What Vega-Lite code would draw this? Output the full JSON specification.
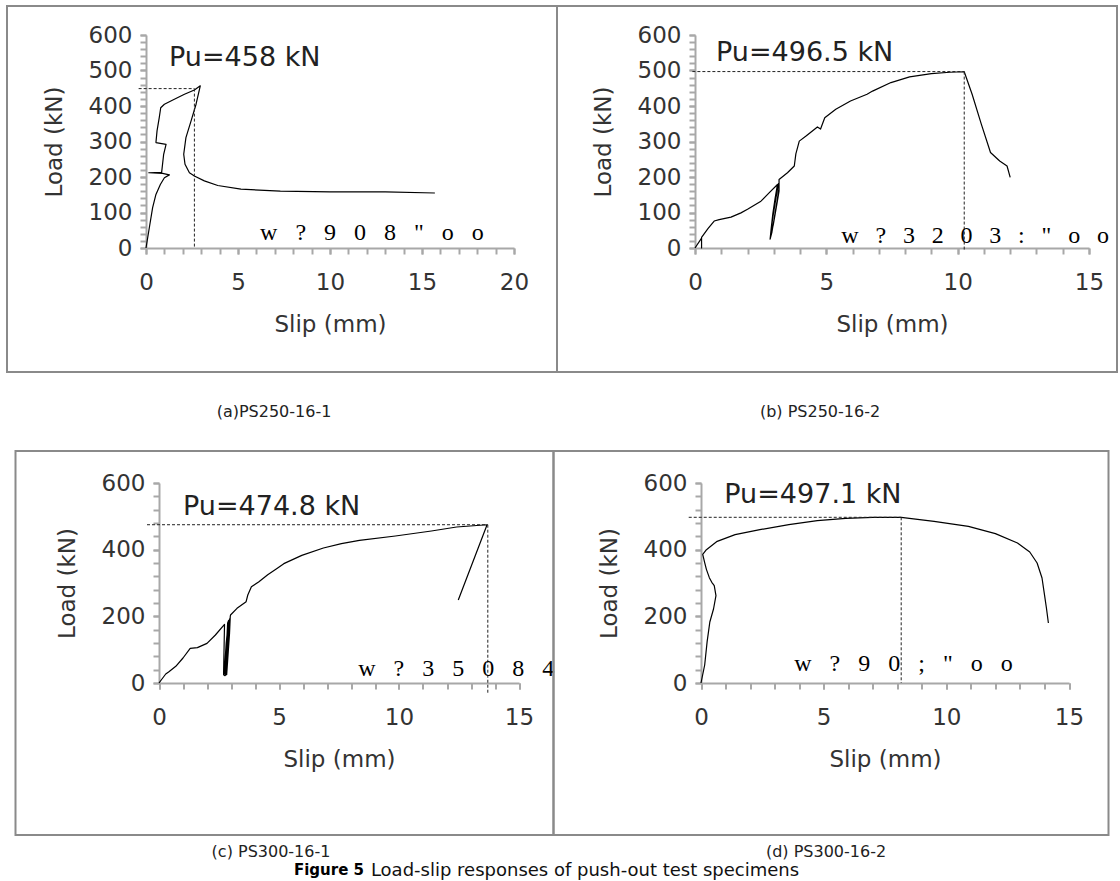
{
  "$schema": "https://vega.github.io/schema/vega-lite/v6.json",
  "padding": {"left": 6, "top": 5, "right": 0, "bottom": 0},
  "spacing": 29,
  "center": true,
  "title": {"text": "Load-slip responses of push-out test specimens", "orient": "bottom", "offset": 0, "dx": 23, "dy": -16.5, "fontSize": 18, "fontWeight": "normal", "color": "#111"},
  "datasets": {
    "a": [
      {"i": 0, "s": 0, "L": 0}, {"i": 1, "s": 0.18, "L": 57}, {"i": 2, "s": 0.36, "L": 114}, {"i": 3, "s": 0.54, "L": 151},
      {"i": 4, "s": 0.78, "L": 179}, {"i": 5, "s": 1.0, "L": 198}, {"i": 6, "s": 1.27, "L": 206}, {"i": 7, "s": 0.9, "L": 210},
      {"i": 8, "s": 0.15, "L": 212}, {"i": 9, "s": 0.85, "L": 213}, {"i": 10, "s": 0.96, "L": 264}, {"i": 11, "s": 1.09, "L": 292},
      {"i": 12, "s": 0.54, "L": 297}, {"i": 13, "s": 0.6, "L": 330}, {"i": 14, "s": 0.72, "L": 367}, {"i": 15, "s": 0.8, "L": 395},
      {"i": 16, "s": 1.0, "L": 405}, {"i": 17, "s": 1.54, "L": 419}, {"i": 18, "s": 2.09, "L": 433}, {"i": 19, "s": 2.63, "L": 445},
      {"i": 20, "s": 2.95, "L": 457}, {"i": 21, "s": 2.72, "L": 405}, {"i": 22, "s": 2.45, "L": 358}, {"i": 23, "s": 2.17, "L": 311},
      {"i": 24, "s": 2.05, "L": 264}, {"i": 25, "s": 2.12, "L": 236}, {"i": 26, "s": 2.36, "L": 212}, {"i": 27, "s": 2.63, "L": 203},
      {"i": 28, "s": 3.17, "L": 189}, {"i": 29, "s": 3.9, "L": 176}, {"i": 30, "s": 5.16, "L": 166}, {"i": 31, "s": 7.3, "L": 160},
      {"i": 32, "s": 10.0, "L": 158}, {"i": 33, "s": 13.0, "L": 158}, {"i": 34, "s": 15.7, "L": 155}
    ],
    "b": [
      {"i": 0, "s": 0, "L": 0}, {"i": 1, "s": 0.25, "L": 28}, {"i": 2, "s": 0.25, "L": 0}, {"i": 3, "s": 0.25, "L": 30},
      {"i": 4, "s": 0.5, "L": 55}, {"i": 5, "s": 0.73, "L": 76}, {"i": 6, "s": 0.92, "L": 80}, {"i": 7, "s": 1.37, "L": 87},
      {"i": 8, "s": 1.75, "L": 99}, {"i": 9, "s": 2.0, "L": 109}, {"i": 10, "s": 2.51, "L": 132}, {"i": 11, "s": 2.83, "L": 156},
      {"i": 12, "s": 3.14, "L": 179}, {"i": 13, "s": 3.05, "L": 140}, {"i": 14, "s": 2.96, "L": 95}, {"i": 15, "s": 2.9, "L": 55},
      {"i": 16, "s": 2.86, "L": 25}, {"i": 17, "s": 2.93, "L": 45}, {"i": 18, "s": 3.03, "L": 90}, {"i": 19, "s": 3.13, "L": 135},
      {"i": 20, "s": 3.2, "L": 170}, {"i": 21, "s": 3.18, "L": 182}, {"i": 22, "s": 3.08, "L": 140}, {"i": 23, "s": 2.95, "L": 80},
      {"i": 24, "s": 2.88, "L": 35}, {"i": 25, "s": 2.98, "L": 65}, {"i": 26, "s": 3.12, "L": 125}, {"i": 27, "s": 3.2, "L": 160},
      {"i": 28, "s": 3.2, "L": 193}, {"i": 29, "s": 3.52, "L": 212}, {"i": 30, "s": 3.78, "L": 231}, {"i": 31, "s": 3.84, "L": 265},
      {"i": 32, "s": 3.97, "L": 301}, {"i": 33, "s": 4.24, "L": 316}, {"i": 34, "s": 4.66, "L": 341}, {"i": 35, "s": 4.78, "L": 335},
      {"i": 36, "s": 4.94, "L": 367}, {"i": 37, "s": 5.36, "L": 391}, {"i": 38, "s": 5.92, "L": 414}, {"i": 39, "s": 6.55, "L": 433},
      {"i": 40, "s": 6.76, "L": 442}, {"i": 41, "s": 7.46, "L": 466}, {"i": 42, "s": 8.17, "L": 482}, {"i": 43, "s": 9.0, "L": 491},
      {"i": 44, "s": 9.7, "L": 495}, {"i": 45, "s": 10.25, "L": 496.5}, {"i": 46, "s": 10.55, "L": 433}, {"i": 47, "s": 10.9, "L": 349},
      {"i": 48, "s": 11.25, "L": 269}, {"i": 49, "s": 11.6, "L": 245}, {"i": 50, "s": 11.88, "L": 231}, {"i": 51, "s": 12.0, "L": 199}
    ],
    "c": [
      {"i": 0, "s": 0, "L": 0}, {"i": 1, "s": 0.28, "L": 27}, {"i": 2, "s": 0.4, "L": 33}, {"i": 3, "s": 0.7, "L": 50},
      {"i": 4, "s": 1.0, "L": 75}, {"i": 5, "s": 1.3, "L": 104}, {"i": 6, "s": 1.6, "L": 106}, {"i": 7, "s": 2.0, "L": 119},
      {"i": 8, "s": 2.35, "L": 144}, {"i": 9, "s": 2.73, "L": 176}, {"i": 10, "s": 2.69, "L": 25}, {"i": 11, "s": 2.75, "L": 22},
      {"i": 12, "s": 2.86, "L": 180}, {"i": 13, "s": 2.9, "L": 188}, {"i": 14, "s": 2.8, "L": 120}, {"i": 15, "s": 2.72, "L": 30},
      {"i": 16, "s": 2.78, "L": 24}, {"i": 17, "s": 2.92, "L": 185}, {"i": 18, "s": 2.96, "L": 195}, {"i": 19, "s": 2.86, "L": 110},
      {"i": 20, "s": 2.76, "L": 28}, {"i": 21, "s": 2.82, "L": 25}, {"i": 22, "s": 2.94, "L": 150}, {"i": 23, "s": 2.97, "L": 200},
      {"i": 24, "s": 2.98, "L": 204}, {"i": 25, "s": 3.25, "L": 224}, {"i": 26, "s": 3.63, "L": 244},
      {"i": 27, "s": 3.7, "L": 264}, {"i": 28, "s": 3.85, "L": 289}, {"i": 29, "s": 4.15, "L": 303}, {"i": 30, "s": 4.53, "L": 325},
      {"i": 31, "s": 4.9, "L": 343}, {"i": 32, "s": 5.2, "L": 358}, {"i": 33, "s": 5.95, "L": 383}, {"i": 34, "s": 6.85, "L": 405},
      {"i": 35, "s": 7.6, "L": 418}, {"i": 36, "s": 8.35, "L": 428}, {"i": 37, "s": 9.85, "L": 441}, {"i": 38, "s": 11.35, "L": 456},
      {"i": 39, "s": 12.4, "L": 468}, {"i": 40, "s": 13.67, "L": 474.8}, {"i": 41, "s": 12.47, "L": 249}
    ],
    "d": [
      {"i": 0, "s": 0, "L": 0}, {"i": 1, "s": 0.15, "L": 54}, {"i": 2, "s": 0.25, "L": 124}, {"i": 3, "s": 0.36, "L": 183},
      {"i": 4, "s": 0.51, "L": 222}, {"i": 5, "s": 0.61, "L": 262}, {"i": 6, "s": 0.54, "L": 292}, {"i": 7, "s": 0.44, "L": 302},
      {"i": 8, "s": 0.34, "L": 316}, {"i": 9, "s": 0.22, "L": 341}, {"i": 10, "s": 0.15, "L": 361}, {"i": 11, "s": 0.07, "L": 386},
      {"i": 12, "s": 0.22, "L": 400}, {"i": 13, "s": 0.66, "L": 425}, {"i": 14, "s": 1.39, "L": 445}, {"i": 15, "s": 2.4, "L": 460},
      {"i": 16, "s": 3.58, "L": 475}, {"i": 17, "s": 4.74, "L": 487}, {"i": 18, "s": 5.9, "L": 494}, {"i": 19, "s": 7.0, "L": 497},
      {"i": 20, "s": 8.16, "L": 497.1}, {"i": 21, "s": 9.5, "L": 485}, {"i": 22, "s": 10.9, "L": 470}, {"i": 23, "s": 12.0, "L": 448},
      {"i": 24, "s": 12.9, "L": 420}, {"i": 25, "s": 13.4, "L": 393}, {"i": 26, "s": 13.7, "L": 360}, {"i": 27, "s": 13.9, "L": 315},
      {"i": 28, "s": 14.0, "L": 265}, {"i": 29, "s": 14.08, "L": 225}, {"i": 30, "s": 14.16, "L": 180}
    ]
  },
  "vconcat": [
    {
      "hconcat": [
        {
          "width": 550, "height": 366,
          "title": {"text": "(a)PS250-16-1", "orient": "bottom", "offset": 32, "dx": -8},
          "resolve": {"axis": {"x": "independent", "y": "independent"}},
          "layer": [
            {
              "data": {"name": "a"},
              "mark": {"type": "line", "color": "#000", "strokeWidth": 1.2, "strokeJoin": "round"},
              "encoding": {
                "x": {"field": "s", "type": "quantitative", "scale": {"domain": [0, 20], "range": [139, 507], "nice": false, "zero": false},
                  "axis": {"title": "Slip (mm)", "orient": "bottom", "offset": -124, "values": [0, 5, 10, 15, 20]}},
                "y": {"field": "L", "type": "quantitative", "scale": {"domain": [0, 600], "range": [242, 29], "nice": false, "zero": false},
                  "axis": {"title": "Load (kN)", "orient": "left", "offset": -139, "values": [0, 100, 200, 300, 400, 500, 600]}},
                "order": {"field": "i", "type": "quantitative"}
              }
            },
            {
              "data": {"values": [{"x": -0.4, "x2": 2.63, "y": 449, "y2": 449}, {"x": 2.63, "x2": 2.63, "y": 449, "y2": 0}]},
              "mark": {"type": "rule", "color": "#222", "strokeWidth": 1, "strokeDash": [3, 2]},
              "encoding": {
                "x": {"field": "x", "type": "quantitative", "axis": {"orient": "bottom", "offset": -124, "title": null, "labels": false, "domain": false, "values": [0,1,2,3,4,5,6,7,8,9,10,11,12,13,14,15,16,17,18,19,20]}},
                "x2": {"field": "x2"},
                "y": {"field": "y", "type": "quantitative", "axis": {"orient": "left", "offset": -139, "title": null, "labels": false, "domain": false, "values": [0,20,40,60,80,100,120,140,160,180,200,220,240,260,280,300,320,340,360,380,400,420,440,460,480,500,520,540,560,580,600]}},
                "y2": {"field": "y2"}
              }
            },
            {
              "data": {"values": [{"label": "Pu=458 kN"}]},
              "mark": {"type": "text", "align": "left", "baseline": "alphabetic", "fontSize": 27, "color": "#222"},
              "encoding": {"x": {"datum": 1.25, "axis": null}, "y": {"datum": 513, "axis": null}, "text": {"field": "label"}}
            },
            {
              "data": {"values": [{"label": "w\u2002 ?\u2002 9\u2002 0\u2002 8\u2002 \"\u2002 o\u2002 o"}]},
              "mark": {"type": "text", "align": "left", "baseline": "alphabetic", "font": "Liberation Serif", "fontSize": 24, "color": "#000"},
              "encoding": {"x": {"datum": 6.2, "axis": null}, "y": {"datum": 22, "axis": null}, "text": {"field": "label"}}
            }
          ]
        },
        {
          "width": 560, "height": 366,
          "title": {"text": "(b) PS250-16-2", "orient": "bottom", "offset": 32, "dx": -17},
          "resolve": {"axis": {"x": "independent", "y": "independent"}},
          "layer": [
            {
              "data": {"name": "b"},
              "mark": {"type": "line", "color": "#000", "strokeWidth": 1.2, "strokeJoin": "round"},
              "encoding": {
                "x": {"field": "s", "type": "quantitative", "scale": {"domain": [0, 15], "range": [138, 532], "nice": false, "zero": false},
                  "axis": {"title": "Slip (mm)", "orient": "bottom", "offset": -124, "values": [0, 5, 10, 15]}},
                "y": {"field": "L", "type": "quantitative", "scale": {"domain": [0, 600], "range": [242, 29], "nice": false, "zero": false},
                  "axis": {"title": "Load (kN)", "orient": "left", "offset": -138, "values": [0, 100, 200, 300, 400, 500, 600]}},
                "order": {"field": "i", "type": "quantitative"}
              }
            },
            {
              "data": {"values": [{"x": -0.1, "x2": 10.25, "y": 497, "y2": 497}, {"x": 10.25, "x2": 10.25, "y": 497, "y2": -8}]},
              "mark": {"type": "rule", "color": "#222", "strokeWidth": 1, "strokeDash": [3, 2]},
              "encoding": {
                "x": {"field": "x", "type": "quantitative", "axis": {"orient": "bottom", "offset": -124, "title": null, "labels": false, "domain": false, "values": [0,1,2,3,4,5,6,7,8,9,10,11,12,13,14,15]}},
                "x2": {"field": "x2"},
                "y": {"field": "y", "type": "quantitative", "axis": {"orient": "left", "offset": -138, "title": null, "labels": false, "domain": false, "values": [0,20,40,60,80,100,120,140,160,180,200,220,240,260,280,300,320,340,360,380,400,420,440,460,480,500,520,540,560,580,600]}},
                "y2": {"field": "y2"}
              }
            },
            {
              "data": {"values": [{"label": "Pu=496.5 kN"}]},
              "mark": {"type": "text", "align": "left", "baseline": "alphabetic", "fontSize": 27, "color": "#222"},
              "encoding": {"x": {"datum": 0.8, "axis": null}, "y": {"datum": 527, "axis": null}, "text": {"field": "label"}}
            },
            {
              "data": {"values": [{"label": "w\u2002\u2009?\u2002\u20093\u2002\u20092\u2002\u20090\u2002\u20093\u2002\u2009:\u2002\u2009\"\u2002\u2009o\u2002\u2009o"}]},
              "mark": {"type": "text", "align": "left", "baseline": "alphabetic", "font": "Liberation Serif", "fontSize": 24, "color": "#000"},
              "encoding": {"x": {"datum": 5.57, "axis": null}, "y": {"datum": 14, "axis": null}, "text": {"field": "label"}}
            }
          ]
        }
      ],
      "spacing": 0,
      "bounds": "flush"
    },
    {
      "hconcat": [
        {
          "width": 538, "height": 384,
          "title": {"text": "(c) PS300-16-1", "orient": "bottom", "offset": 9, "dx": -13.5},
          "resolve": {"axis": {"x": "independent", "y": "independent"}},
          "layer": [
            {
              "data": {"name": "c"},
              "mark": {"type": "line", "color": "#000", "strokeWidth": 1.2, "strokeJoin": "round"},
              "encoding": {
                "x": {"field": "s", "type": "quantitative", "scale": {"domain": [0, 15], "range": [143.5, 503.5], "nice": false, "zero": false},
                  "axis": {"title": "Slip (mm)", "orient": "bottom", "offset": -152, "values": [0, 5, 10, 15]}},
                "y": {"field": "L", "type": "quantitative", "scale": {"domain": [0, 600], "range": [232, 32], "nice": false, "zero": false},
                  "axis": {"title": "Load (kN)", "orient": "left", "offset": -143.5, "values": [0, 200, 400, 600]}},
                "order": {"field": "i", "type": "quantitative"}
              }
            },
            {
              "data": {"values": [{"x": -0.5, "x2": 13.7, "y": 474.8, "y2": 474.8}, {"x": 13.7, "x2": 13.7, "y": 474.8, "y2": -30}]},
              "mark": {"type": "rule", "color": "#222", "strokeWidth": 1, "strokeDash": [3, 2]},
              "encoding": {
                "x": {"field": "x", "type": "quantitative", "axis": {"orient": "bottom", "offset": -152, "title": null, "labels": false, "domain": false, "values": [0,1,2,3,4,5,6,7,8,9,10,11,12,13,14,15]}},
                "x2": {"field": "x2"},
                "y": {"field": "y", "type": "quantitative", "axis": {"orient": "left", "offset": -143.5, "title": null, "labels": false, "domain": false, "values": [0,40,80,120,160,200,240,280,320,360,400,440,480,520,560,600]}},
                "y2": {"field": "y2"}
              }
            },
            {
              "data": {"values": [{"label": "Pu=474.8 kN"}]},
              "mark": {"type": "text", "align": "left", "baseline": "alphabetic", "fontSize": 27, "color": "#222"},
              "encoding": {"x": {"datum": 1.0, "axis": null}, "y": {"datum": 504, "axis": null}, "text": {"field": "label"}}
            },
            {
              "data": {"values": [{"label": "w\u2002 ?\u2002 3\u2002 5\u2002 0\u2002 8\u2002 4"}]},
              "mark": {"type": "text", "align": "left", "baseline": "alphabetic", "font": "Liberation Serif", "fontSize": 24, "color": "#000"},
              "encoding": {"x": {"datum": 8.3, "axis": null}, "y": {"datum": 21, "axis": null}, "text": {"field": "label"}}
            }
          ]
        },
        {
          "width": 555, "height": 384,
          "title": {"text": "(d) PS300-16-2", "orient": "bottom", "offset": 9, "dx": -5},
          "resolve": {"axis": {"x": "independent", "y": "independent"}},
          "layer": [
            {
              "data": {"name": "d"},
              "mark": {"type": "line", "color": "#000", "strokeWidth": 1.2, "strokeJoin": "round"},
              "encoding": {
                "x": {"field": "s", "type": "quantitative", "scale": {"domain": [0, 15], "range": [147.5, 515.5], "nice": false, "zero": false},
                  "axis": {"title": "Slip (mm)", "orient": "bottom", "offset": -152, "values": [0, 5, 10, 15]}},
                "y": {"field": "L", "type": "quantitative", "scale": {"domain": [0, 600], "range": [232, 32], "nice": false, "zero": false},
                  "axis": {"title": "Load (kN)", "orient": "left", "offset": -147.5, "values": [0, 200, 400, 600]}},
                "order": {"field": "i", "type": "quantitative"}
              }
            },
            {
              "data": {"values": [{"x": -0.5, "x2": 8.16, "y": 497.1, "y2": 497.1}, {"x": 8.16, "x2": 8.16, "y": 497.1, "y2": 0}]},
              "mark": {"type": "rule", "color": "#222", "strokeWidth": 1, "strokeDash": [3, 2]},
              "encoding": {
                "x": {"field": "x", "type": "quantitative", "axis": {"orient": "bottom", "offset": -152, "title": null, "labels": false, "domain": false, "values": [0,1,2,3,4,5,6,7,8,9,10,11,12,13,14,15]}},
                "x2": {"field": "x2"},
                "y": {"field": "y", "type": "quantitative", "axis": {"orient": "left", "offset": -147.5, "title": null, "labels": false, "domain": false, "values": [0,40,80,120,160,200,240,280,320,360,400,440,480,520,560,600]}},
                "y2": {"field": "y2"}
              }
            },
            {
              "data": {"values": [{"label": "Pu=497.1 kN"}]},
              "mark": {"type": "text", "align": "left", "baseline": "alphabetic", "fontSize": 27, "color": "#222"},
              "encoding": {"x": {"datum": 0.95, "axis": null}, "y": {"datum": 540, "axis": null}, "text": {"field": "label"}}
            },
            {
              "data": {"values": [{"label": "w\u2002 ?\u2002 9\u2002 0\u2002 ;\u2002 \"\u2002 o\u2002 o"}]},
              "mark": {"type": "text", "align": "left", "baseline": "alphabetic", "font": "Liberation Serif", "fontSize": 24, "color": "#000"},
              "encoding": {"x": {"datum": 3.8, "axis": null}, "y": {"datum": 36, "axis": null}, "text": {"field": "label"}}
            }
          ]
        }
      ],
      "spacing": 0,
      "bounds": "flush",
      "title": {"text": "Figure 5", "orient": "bottom", "offset": 2, "dx": -233, "fontSize": 15, "fontWeight": "bold", "color": "#000"}
    }
  ],
  "config": {
    "view": {"stroke": "#8a8a8a", "strokeWidth": 2},
    "font": "DejaVu Sans",
    "axis": {
      "domainColor": "#a8a8a8", "domainWidth": 2, "tickColor": "#a8a8a8", "tickWidth": 2, "tickSize": 6,
      "labelFont": "DejaVu Sans", "labelFontSize": 23, "labelColor": "#333",
      "titleFont": "DejaVu Sans", "titleFontSize": 23, "titleFontWeight": "normal", "titleColor": "#333",
      "grid": false, "labelFlush": false
    },
    "axisX": {"labelPadding": 17, "titlePadding": 19},
    "axisY": {"labelPadding": 8, "titlePadding": 22},
    "title": {"font": "DejaVu Sans", "fontSize": 16, "fontWeight": "normal", "color": "#222", "anchor": "middle"},
    "text": {"font": "DejaVu Sans"}
  }
}
